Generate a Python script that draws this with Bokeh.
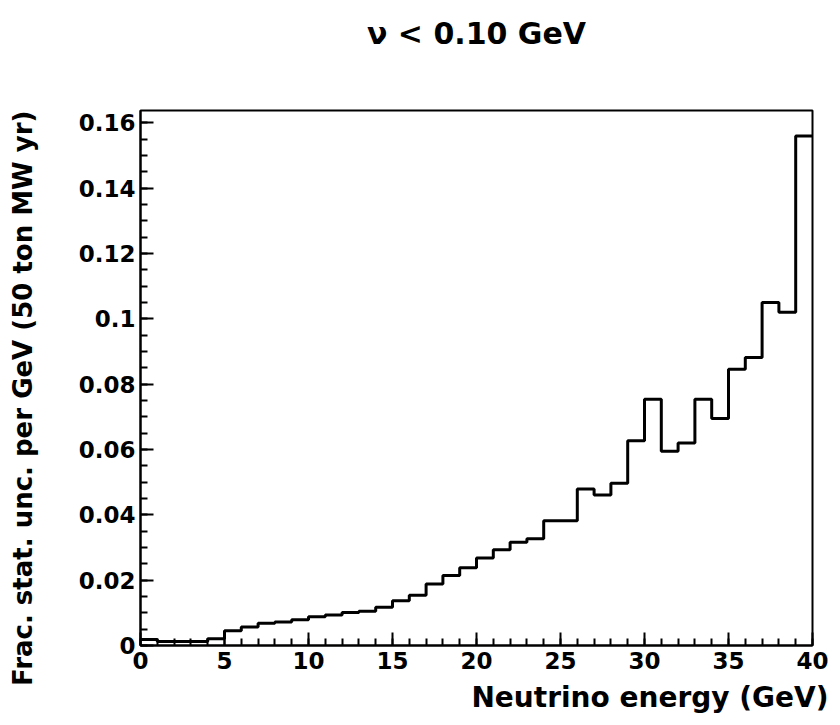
from bokeh.plotting import figure
from bokeh.models import SingleIntervalTicker, CustomJSTickFormatter, Title, Range1d
from bokeh.embed import file_html
from bokeh.resources import INLINE

# ---- data ----
energy_bin_edges_gev = list(range(0, 41))  # 1 GeV bins, 0..40 GeV
frac_stat_unc = [
    0.0018, 0.0012, 0.0012, 0.0012, 0.0021, 0.0045, 0.0057, 0.0068, 0.0072, 0.0079,
    0.0088, 0.0093, 0.0101, 0.0105, 0.0117, 0.0137, 0.0154, 0.0188, 0.0214, 0.0238,
    0.0268, 0.0293, 0.0316, 0.0327, 0.0382, 0.0382, 0.0479, 0.0461, 0.0497, 0.0627,
    0.0754, 0.0595, 0.0620, 0.0754, 0.0695, 0.0846, 0.0882, 0.1050, 0.1020, 0.1560,
]
title_text = "\u03bd < 0.10 GeV"
x_title = "Neutrino energy (GeV)"
y_title = "Frac. stat. unc. per GeV (50 ton MW yr)"

FONT = "DejaVu Sans"

p = figure(
    width=840, height=725, output_backend="svg", toolbar_location=None,
    x_range=Range1d(0, 40), y_range=Range1d(0, 1.05 * max(frac_stat_unc)),
    min_border_left=140, min_border_right=28, min_border_top=110, min_border_bottom=80,
)
p.background_fill_color = "white"
p.border_fill_color = "white"
p.xgrid.visible = False
p.ygrid.visible = False
p.outline_line_color = "black"
p.outline_line_width = 2

# histogram outline
p.step(x=energy_bin_edges_gev, y=frac_stat_unc + [frac_stat_unc[-1]], mode="after",
       line_color="black", line_width=3)

# axes
p.xaxis.ticker = SingleIntervalTicker(interval=5, num_minor_ticks=5)
p.yaxis.ticker = SingleIntervalTicker(interval=0.02, num_minor_ticks=4)
p.yaxis.formatter = CustomJSTickFormatter(
    code="var s = tick.toFixed(2); s = s.replace(/0+$/, ''); s = s.replace(/\\.$/, ''); return s;")
for ax in (p.xaxis[0], p.yaxis[0]):
    ax.axis_line_color = "black"
    ax.axis_line_width = 2
    ax.major_tick_line_color = "black"
    ax.major_tick_line_width = 2
    ax.minor_tick_line_color = "black"
    ax.minor_tick_line_width = 2
    ax.major_tick_in = 13
    ax.major_tick_out = 0
    ax.minor_tick_in = 7
    ax.minor_tick_out = 0
    ax.major_label_text_font = FONT
    ax.major_label_text_font_style = "bold"
    ax.major_label_text_font_size = "23px"
    ax.major_label_text_color = "black"
p.xaxis.major_label_standoff = 6
p.yaxis.major_label_standoff = 5

# main title: a thin spacer panel next to the frame, then the title further out
p.add_layout(Title(text=" ", text_font_size="1px", standoff=52), "above")
p.add_layout(Title(text=title_text, align="center", standoff=10,
                   text_font=FONT, text_font_style="bold", text_font_size="30px",
                   text_color="black"), "above")

# axis titles (right aligned, ROOT style)
xt = Title(text=x_title, align="right", offset=-16, standoff=14,
           text_font=FONT, text_font_style="bold", text_font_size="28px", text_color="black")
p.add_layout(xt, "below")
p.add_layout(Title(text=" ", text_font_size="1px", standoff=30), "left")
yt = Title(text=y_title, align="right", offset=0, standoff=10,
           text_font=FONT, text_font_style="bold", text_font_size="26px", text_color="black")
p.add_layout(yt, "left")

open("out.html", "w").write(file_html(p, INLINE))
